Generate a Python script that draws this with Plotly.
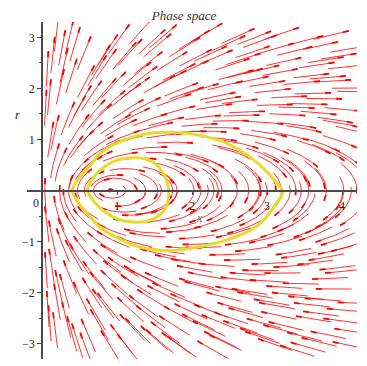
import numpy as np
import plotly.graph_objects as go

# ---- model of the direction field (reversible system) ----
#   x' = r ,  r' = C_R*r^2/x + A_F/sqrt(x) - B_F
C_R = 0.72
A_F = 1.24
B_F = 1.30

# ---- highlighted solution curves ----
outer_x = [0.40, 0.45, 0.55, 0.67, 0.77, 1.08, 1.44, 1.75, 2.11, 2.47, 2.83, 3.10, 3.21,
           3.10, 2.90, 2.60, 2.29, 1.95, 1.67, 1.31, 1.08, 0.77, 0.67, 0.55, 0.45, 0.40]
outer_r = [0.00, 0.15, 0.35, 0.54, 0.72, 0.98, 1.12, 1.14, 1.08, 0.92, 0.59, 0.20, -0.03,
           -0.30, -0.66, -0.90, -1.04, -1.14, -1.18, -1.11, -0.98, -0.72, -0.56, -0.36, -0.16, 0.00]
inner_x = [0.61, 0.66, 0.77, 0.99, 1.26, 1.48, 1.62, 1.69, 1.64, 1.48, 1.26, 0.95, 0.72, 0.61]
inner_r = [0.00, 0.20, 0.39, 0.59, 0.64, 0.56, 0.33, 0.00, -0.36, -0.56, -0.62, -0.52, -0.26, 0.00]

x_ticks = [1, 2, 3, 4]
r_ticks = [-3, -2, -1, 1, 2, 3]

# ---- layout geometry (page has an 8px body margin) ----
OFF = 8
W, H = 358, 357
ML, MT = 27 - OFF, 22 - OFF
PW, PH = 330, 337
MR, MB = W - ML - PW, H - MT - PH
XR = [-0.2, 4.2]
YR = [-3.3, 3.3]
KX = PW / (XR[1] - XR[0])
KY = PH / (YR[1] - YR[0])


def paper_xy(px, py):
    return (px - OFF - ML) / PW, (MT + PH - (py - OFF)) / PH


def vel(x, r):
    xs = max(x, 1e-4)
    vx = r * xs
    vy = C_R * r * r + A_F * np.sqrt(xs) - B_F * xs
    return vx, vy


def step_dir(x, r, sgn):
    vx, vy = vel(x, r)
    sx, sy = vx * KX, vy * KY
    n = np.hypot(sx, sy)
    if n == 0:
        return 0.0, 0.0
    return sgn * sx / n / KX, sgn * sy / n / KY


def trace_arc(x0, r0, sgn, length, nsteps):
    h = length / nsteps
    pts = [(x0, r0)]
    x, r = x0, r0
    for _ in range(nsteps):
        dx1, dr1 = step_dir(x, r, sgn)
        xm, rm = x + 0.5 * h * dx1, r + 0.5 * h * dr1
        if xm <= 0.004:
            break
        dx2, dr2 = step_dir(xm, rm, sgn)
        x, r = x + h * dx2, r + h * dr2
        if x <= 0.004:
            break
        pts.append((x, r))
    return pts


def halton(i, b):
    f, res = 1.0, 0.0
    while i > 0:
        f /= b
        res += f * (i % b)
        i //= b
    return res


N_ARROWS = 390
ARC_PX = 36.0
HEAD_PX = 7.0

lx, ly, hx, hy = [], [], [], []
for i in range(1, N_ARROWS + 1):
    x0 = 0.03 + 4.17 * halton(i, 2)
    r0 = -3.15 + 6.3 * halton(i, 3)
    back = trace_arc(x0, r0, -1, ARC_PX / 2, 12)
    fwd = trace_arc(x0, r0, 1, ARC_PX / 2, 12)
    pts = back[::-1] + fwd[1:]
    if len(pts) < 3:
        continue
    lx += [p[0] for p in pts] + [None]
    ly += [p[1] for p in pts] + [None]
    nh = max(2, int(round(len(fwd) * HEAD_PX / (ARC_PX / 2))))
    head = fwd[-nh:]
    hx += [p[0] for p in head] + [None]
    hy += [p[1] for p in head] + [None]

fig = go.Figure()
fig.add_trace(go.Scatter(x=lx, y=ly, mode='lines', line=dict(color='rgba(255,0,0,0.8)', width=1),
                         hoverinfo='skip'))
fig.add_trace(go.Scatter(x=hx, y=hy, mode='lines', line=dict(color='#ff0000', width=1.8),
                         hoverinfo='skip'))
yellow = '#e2dc2a'
fig.add_trace(go.Scatter(x=outer_x, y=outer_r, mode='lines', line=dict(color=yellow, width=3, shape='spline'),
                         hoverinfo='skip'))
fig.add_trace(go.Scatter(x=inner_x, y=inner_r, mode='lines', line=dict(color=yellow, width=3, shape='spline'),
                         hoverinfo='skip'))

serif = 'Liberation Serif'
axis_col = '#4a4a4a'
fig.update_layout(
    width=W, height=H,
    margin=dict(l=ML, r=MR, t=MT, b=MB, autoexpand=False),
    plot_bgcolor='white', paper_bgcolor='white',
    showlegend=False,
    title=dict(text='<i>Phase space</i>', x=(184 - OFF) / W, xanchor='center', xref='container',
               y=1 - (15 - OFF) / H, yanchor='middle', yref='container',
               font=dict(family=serif, size=13, color='#333333')),
    xaxis=dict(range=XR, anchor='free', position=0.5, showline=True, linecolor=axis_col,
               linewidth=1.5, showgrid=False, zeroline=False, tickvals=x_ticks,
               ticks='outside', ticklen=4, tickcolor=axis_col,
               tickfont=dict(family=serif, size=12, color='#222222')),
    yaxis=dict(range=YR, anchor='free', position=(0 - XR[0]) / (XR[1] - XR[0]), showline=True,
               linecolor=axis_col, linewidth=1.5, showgrid=False, zeroline=False,
               tickvals=r_ticks, ticks='outside', ticklen=4, tickcolor=axis_col,
               minor=dict(dtick=0.5, ticks='outside', ticklen=2, tickcolor=axis_col),
               tickfont=dict(family=serif, size=12, color='#222222')),
)
fig.add_annotation(x=-0.08, y=0, xref='x', yref='y', text='0', showarrow=False, yshift=-12,
                   font=dict(family=serif, size=12, color='#222222'))
rx, ry = paper_xy(13, 106)
fig.add_annotation(x=rx, y=ry, xref='paper', yref='paper',
                   text='<i>r</i>', showarrow=False, font=dict(family=serif, size=12, color='#222222'))
xx, xy = paper_xy(199, 218)
fig.add_annotation(x=xx, y=xy, xref='paper', yref='paper',
                   text='<i>x</i>', showarrow=False, font=dict(family=serif, size=12, color='#556677'))

fig.write_html('out.html')
